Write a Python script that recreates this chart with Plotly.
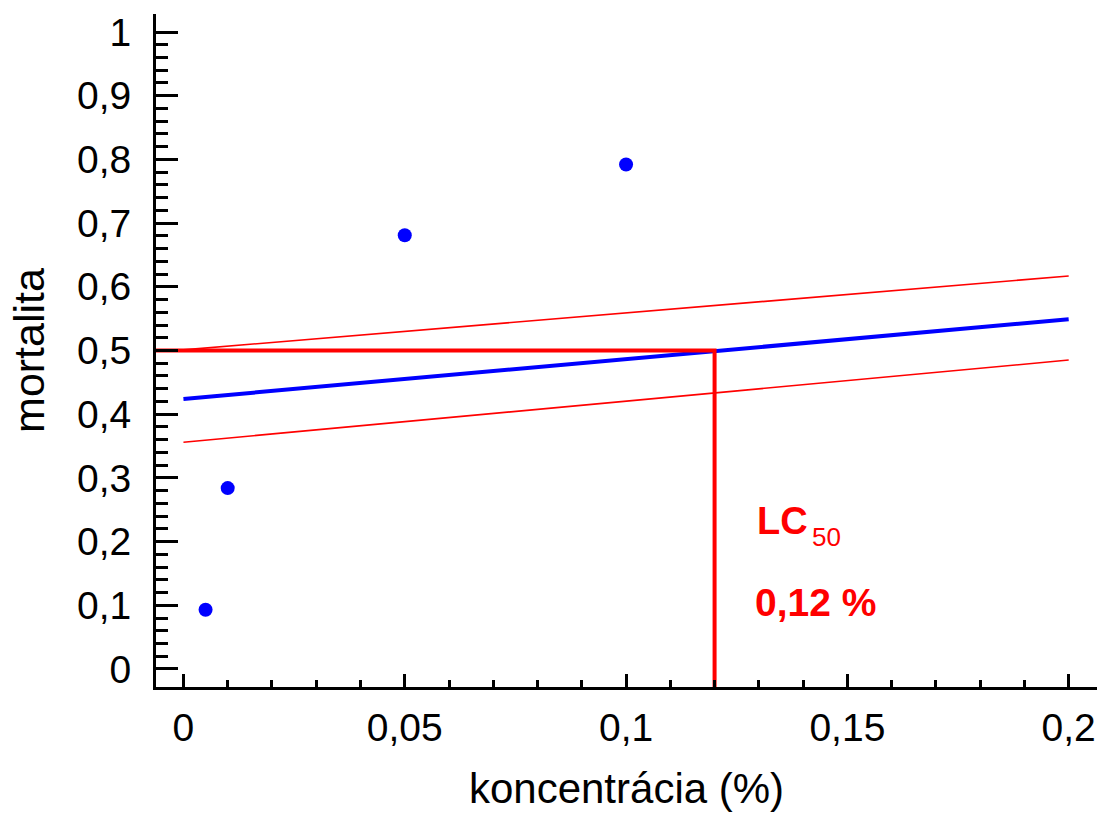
import numpy as np
import plotly.graph_objects as go

# Observed mortality at each tested concentration
konc = [0.005, 0.01, 0.05, 0.1]
mortalita = [0.093, 0.284, 0.681, 0.792]

# Fitted line and its confidence band, evaluated at the ends of the x range
fit_x = [0.0, 0.2]
fit_y = [0.424, 0.549]
band_upper = [0.501, 0.617]
band_lower = [0.356, 0.485]

# LC50 read-off: concentration giving 50 % mortality
lc_level = 0.5
lc50 = 0.12

x_ticks = [0, 0.05, 0.1, 0.15, 0.2]
y_ticks = [0, 0.1, 0.2, 0.3, 0.4, 0.5, 0.6, 0.7, 0.8, 0.9, 1.0]
y_minor = [round(v, 2) for v in np.arange(0.02, 1.0, 0.02) if round(v * 50) % 5 != 0]

x_range = [-0.0062, 0.2064]
y_range = [-0.0283, 1.0283]

RED = "#FF0000"
BLUE = "#0000FF"
FONT = "Liberation Sans, Arial, sans-serif"

fig = go.Figure()

# confidence band limits
for band in (band_upper, band_lower):
    fig.add_trace(go.Scatter(x=fit_x, y=band, mode="lines",
                             line=dict(color=RED, width=1.6), hoverinfo="skip"))

# fitted line
fig.add_trace(go.Scatter(x=fit_x, y=fit_y, mode="lines",
                         line=dict(color=BLUE, width=4)))

# LC50 guide: horizontal at 50 % mortality, then down to the x axis
fig.add_trace(go.Scatter(x=[x_range[0], lc50, lc50], y=[lc_level, lc_level, y_range[0]],
                         mode="lines", line=dict(color=RED, width=4)))

# measured points
fig.add_trace(go.Scatter(x=konc, y=mortalita, mode="markers",
                         marker=dict(color=BLUE, size=14, line=dict(width=0))))

fig.add_annotation(x=0.1291, y=0.232, xref="x", yref="y", text="<b>LC</b>",
                   showarrow=False, xanchor="left", yanchor="middle",
                   font=dict(family=FONT, size=38, color=RED))
fig.add_annotation(x=0.1415, y=0.207, xref="x", yref="y", text="50",
                   showarrow=False, xanchor="left", yanchor="middle",
                   font=dict(family=FONT, size=26, color=RED))
fig.add_annotation(x=0.1286, y=0.104, xref="x", yref="y", text=f"<b>{lc50:.2f} %</b>".replace(".", ","),
                   showarrow=False, xanchor="left", yanchor="middle",
                   font=dict(family=FONT, size=39, color=RED))

fig.update_layout(
    width=1102, height=816,
    margin=dict(l=156, r=5, t=14, b=129),
    paper_bgcolor="white", plot_bgcolor="white",
    showlegend=False,
    separators=", ",
    font=dict(family=FONT, color="black"),
)

fig.update_xaxes(
    range=x_range, tickmode="array", tickvals=x_ticks,
    ticks="inside", ticklen=13, tickwidth=2.5, tickcolor="black",
    showline=True, linewidth=3, linecolor="black",
    showgrid=False, zeroline=False,
    tickfont=dict(family=FONT, size=39),
    ticklabelstandoff=4,
    minor=dict(dtick=0.01, tick0=0, ticks="inside", ticklen=7, tickwidth=2.5,
               tickcolor="black", showgrid=False),
    title=dict(text="koncentrácia (%)", font=dict(family=FONT, size=42), standoff=26),
)
fig.update_yaxes(
    range=y_range, tickmode="array", tickvals=y_ticks,
    ticks="inside", ticklen=22, tickwidth=3, tickcolor="black",
    showline=True, linewidth=3, linecolor="black",
    showgrid=False, zeroline=False,
    tickfont=dict(family=FONT, size=39),
    ticklabelstandoff=14,
    minor=dict(tickmode="array", tickvals=y_minor, ticks="inside", ticklen=12,
               tickwidth=3, tickcolor="black", showgrid=False),
    title=dict(text="mortalita", font=dict(family=FONT, size=43), standoff=19),
)

fig.write_html("out.html")
